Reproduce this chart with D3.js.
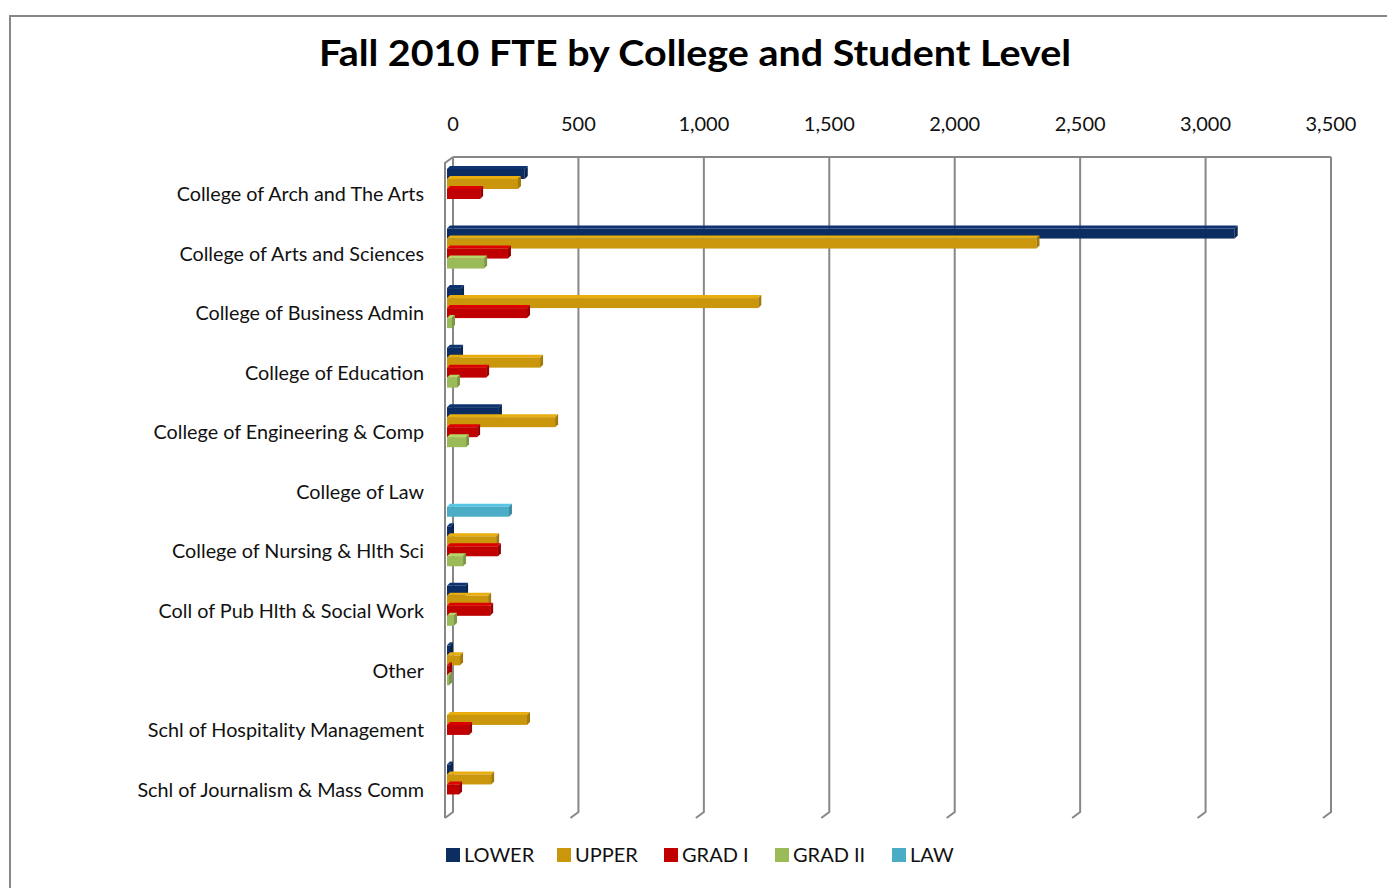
<!DOCTYPE html>
<html>
<head>
<meta charset="utf-8">
<script src="https://cdn.jsdelivr.net/npm/d3@7"></script>
<style>
  body { margin: 0; background: #fff; }
  svg { display: block; font-family: Lato, "Liberation Sans", sans-serif; }
</style>
</head>
<body>
<svg id="chart" width="1387" height="888"></svg>
<script>
const categories = [
  'College of Arch and The Arts',
  'College of Arts and Sciences',
  'College of Business Admin',
  'College of Education',
  'College of Engineering & Comp',
  'College of Law',
  'College of Nursing & Hlth Sci',
  'Coll of Pub Hlth & Social Work',
  'Other',
  'Schl of Hospitality Management',
  'Schl of Journalism & Mass Comm',
]
const seriesNames = ['LOWER', 'UPPER', 'GRAD I', 'GRAD II', 'LAW']
const lower  = [310, 3140, 56, 52, 207, 0, 16, 72, 12, 0, 12]
const upper  = [283, 2350, 1241, 371, 431, 0, 196, 164, 52, 319, 176]
const gradI  = [132, 243, 319, 156, 120, 0, 203, 172, 8, 88, 48]
const gradII = [0, 148, 20, 40, 76, 0, 64, 28, 8, 0, 0]
const law    = [0, 0, 0, 0, 0, 247, 0, 0, 0, 0, 0]
const xTicks = [0, 500, 1000, 1500, 2000, 2500, 3000, 3500]
const colors = ['#0b2d61', '#c9960c', '#c00000', '#9bbb59', '#4bacc6']

const seriesValues = [lower, upper, gradI, gradII, law]

const svg = d3.select('#chart')
const depth = {dx: 8, dy: 6}
const back = {left: 453, right: 1331, top: 157, bottom: 812}

// outer chart frame
svg.append('rect')
  .attr('x', 10).attr('y', 16)
  .attr('width', 1390).attr('height', 890)
  .attr('fill', 'none').attr('stroke', '#878787').attr('stroke-width', 2)

svg.append('text')
  .attr('x', 695).attr('y', 66)
  .attr('text-anchor', 'middle')
  .attr('font-weight', 'bold')
  .attr('font-size', 36)
  .attr('textLength', 752)
  .attr('lengthAdjust', 'spacingAndGlyphs')
  .text('Fall 2010 FTE by College and Student Level')

const xBack = d3.scaleLinear().domain([0, 3500]).range([back.left, back.right])
const xBar = d3.scaleLinear().domain([0, 3500]).range([back.left - 6, back.right - 6])
const y0 = d3.scaleBand().domain(categories)
  .range([back.top + depth.dy, back.bottom + depth.dy])
const y1 = d3.scaleBand().domain(seriesNames).range([6, 56])

// walls and gridlines
const grid = svg.append('g').attr('stroke', '#878787').attr('stroke-width', 2).attr('fill', 'none')
grid.append('line')
  .attr('x1', back.left).attr('x2', back.right)
  .attr('y1', back.top).attr('y2', back.top)
xTicks.forEach((t) => {
  const x = xBack(t)
  grid.append('polyline')
    .attr('points', [[x, back.top], [x, back.bottom], [x - depth.dx, back.bottom + depth.dy]].join(' '))
})
grid.append('polyline')
  .attr('points', [
    [back.left, back.top],
    [back.left - depth.dx, back.top + depth.dy],
    [back.left - depth.dx, back.bottom + depth.dy],
  ].join(' '))

svg.append('g')
  .selectAll('text')
  .data(xTicks)
  .join('text')
  .attr('x', (d) => xBack(d))
  .attr('y', 131)
  .attr('text-anchor', 'middle')
  .attr('font-size', 20)
  .attr('fill', '#111')
  .text((d) => d3.format(',')(d))

svg.append('g')
  .selectAll('text')
  .data(categories)
  .join('text')
  .attr('x', 424)
  .attr('y', (d) => y0(d) + y0.bandwidth() / 2 + 1.5)
  .attr('dy', '0.35em')
  .attr('text-anchor', 'end')
  .attr('font-size', 19.8)
  .attr('fill', '#111')
  .text((d) => d)

// 3d-ish bars: front face, top sliver, darker end cap
const d = 3
const bars = []
seriesNames.forEach((s, si) => {
  categories.forEach((c, ci) => {
    const v = seriesValues[si][ci]
    if (v > 0) bars.push({s, si, c, v})
  })
})
const barG = svg.append('g')
bars.forEach((b) => {
  const x0 = xBar(0)
  const x1 = xBar(b.v)
  const y = y0(b.c) + y1(b.s)
  const h = y1.bandwidth()
  const col = d3.color(colors[b.si])
  const g = barG.append('g')
  g.append('polygon')
    .attr('points', [[x0, y], [x0 + d, y - d], [x1 + d, y - d], [x1, y]].join(' '))
    .attr('fill', col.brighter(0.4))
  g.append('rect')
    .attr('x', x0).attr('y', y)
    .attr('width', x1 - x0).attr('height', h)
    .attr('fill', col)
  g.append('polygon')
    .attr('points', [[x1, y], [x1 + d, y - d], [x1 + d, y + h - d], [x1, y + h]].join(' '))
    .attr('fill', col.darker(0.6))
})

// legend
const legendX = [446, 557, 664, 775, 892]
const legend = svg.append('g')
seriesNames.forEach((s, i) => {
  legend.append('rect')
    .attr('x', legendX[i]).attr('y', 848)
    .attr('width', 14).attr('height', 14)
    .attr('fill', colors[i])
  legend.append('text')
    .attr('x', legendX[i] + 18).attr('y', 862)
    .attr('font-size', 20)
    .attr('fill', '#111')
    .text(s)
})
</script>
</body>
</html>
